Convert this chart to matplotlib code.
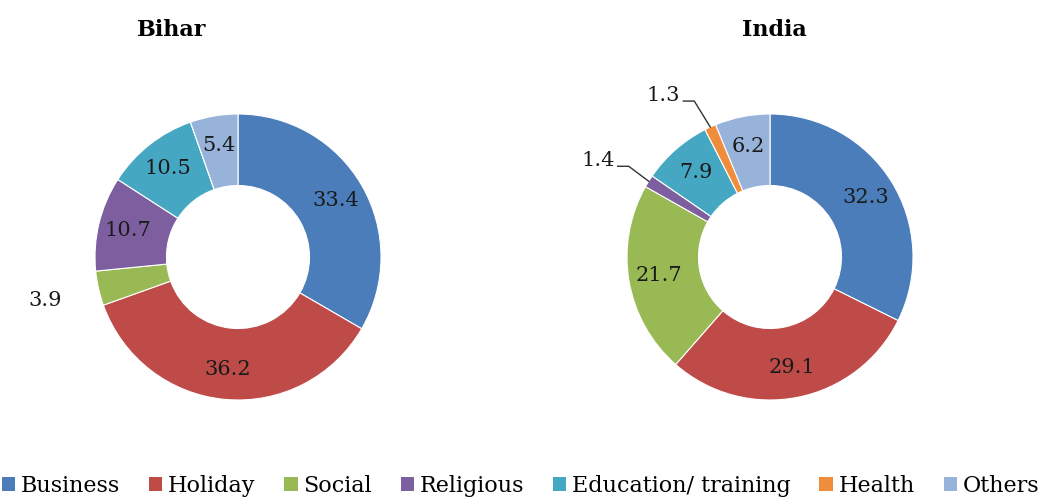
import numpy as np
import matplotlib
matplotlib.use("Agg")
import matplotlib.pyplot as plt
from matplotlib.patches import Patch

# data (percent)
categories = ["Business", "Holiday", "Social", "Religious", "Education/ training", "Health", "Others"]
bihar = [33.4, 36.2, 3.9, 10.7, 10.5, 0.0, 5.4]
india = [32.3, 29.1, 21.7, 1.4, 7.9, 1.3, 6.2]
colors = ["#4A7DBA", "#BE4B48", "#98B954", "#7D5FA0", "#46A7C3", "#F08D3C", "#97B3DA"]

plt.rcParams['font.family'] = ['DejaVu Serif']

fig = plt.figure(figsize=(10.41, 4.99), dpi=100)
W, H = 1041, 499
R_PX = 143.0  # outer radius in pixels
LBL = 15


def donut(cx, cy, values, title, title_x, outside):
    size = 400
    ax = fig.add_axes([(cx - size / 2) / W, (H - cy - size / 2) / H, size / W, size / H])
    lim = size / 2 / R_PX
    ax.pie(values, colors=colors, startangle=90, counterclock=False, radius=1.0,
           wedgeprops=dict(width=0.5, edgecolor="white", linewidth=0.8),
           frame=True)
    ax.set_xlim(-lim, lim)
    ax.set_ylim(-lim, lim)
    ax.set_aspect("equal")
    ax.axis("off")

    total = sum(values)
    cum = 0.0
    for i, v in enumerate(values):
        if v <= 0:
            continue
        mid = cum + v / 2
        cum += v
        ang = np.deg2rad(90 - 360 * mid / total)
        d = np.array([np.cos(ang), np.sin(ang)])
        txt = f"{v:.1f}"
        if i in outside:
            kind = outside[i]
            if kind == "plain":
                p = d * 1.38
                ax.text(p[0], p[1], txt, ha="center", va="center", fontsize=LBL, color="#1a1a1a")
            else:
                dx, dy = kind
                edge = d * 1.0
                elbow = edge + np.array([dx, dy]) / R_PX
                end = elbow + np.array([-11, 0]) / R_PX
                ax.plot([edge[0], elbow[0], end[0]], [edge[1], elbow[1], end[1]],
                        color="#333333", lw=1.0)
                ax.text(end[0] - 3 / R_PX, end[1] + 6 / R_PX, txt, ha="right", va="center",
                        fontsize=LBL, color="#1a1a1a")
        else:
            p = d * 0.79
            ax.text(p[0], p[1], txt, ha="center", va="center", fontsize=LBL, color="#1a1a1a")

    fig.text(title_x / W, 1 - 30 / H, title, ha="center", va="center",
             fontsize=16, fontweight="bold")


donut(238, 257, bihar, "Bihar", 172, {2: "plain"})
donut(770, 257, india, "India", 774, {3: (-20, 15), 5: (-16, 26)})

handles = [Patch(facecolor=c, edgecolor="none") for c in colors]
fig.legend(handles, categories, loc="center", bbox_to_anchor=(0.5, 1 - 486 / H), ncol=7,
           frameon=False, fontsize=16, handlelength=0.6, handleheight=0.6,
           handletextpad=0.25, columnspacing=1.3, borderaxespad=0)

fig.savefig("out.png", dpi=100)
